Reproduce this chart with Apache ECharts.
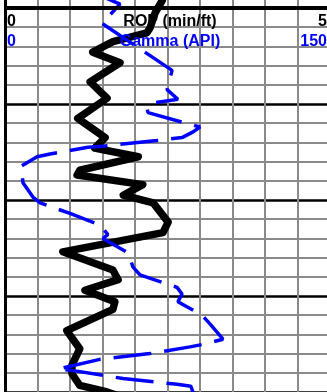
<!DOCTYPE html>
<html><head><meta charset="utf-8">
<script src="https://cdn.jsdelivr.net/npm/echarts@6/dist/echarts.min.js"></script>
<style>html,body{margin:0;padding:0;background:#fff}#c{width:327px;height:392px}</style>
</head><body><div id="c"></div>
<script>
// ROP track (min/ft) vs depth (ft)
const ropDepth = [998.1, 999.2, 1000.5, 1002.1, 1002.6, 1003.5, 1004.6, 1005.7, 1007.7, 1009.4, 1011.5, 1013.5, 1014.6, 1015.5, 1016.9, 1017.4, 1018.4, 1019.5, 1020.3, 1022.3, 1023.4, 1025.4, 1027.3, 1028.3, 1029.4, 1030.6, 1031.4, 1033.6, 1035.5, 1037.2, 1038.1, 1039.3, 1040.0, 1040.8];
const ropValues = [2.46, 2.42, 2.31, 2.23, 2.18, 1.66, 1.35, 1.77, 1.31, 1.57, 1.12, 1.54, 1.38, 2.05, 1.15, 1.11, 2.12, 1.82, 2.28, 2.51, 2.43, 0.89, 1.66, 1.74, 1.23, 1.69, 1.66, 0.95, 1.15, 1.03, 1.03, 1.15, 1.57, 1.92];
// Gamma (API) vs depth (ft)
const gammaDepth = [998.6, 999.6, 1001.6, 1006.5, 1008.5, 1009.5, 1009.9, 1010.4, 1010.9, 1012.4, 1012.9, 1013.5, 1013.8, 1014.4, 1014.5, 1015.2, 1015.5, 1016.5, 1018.2, 1019.7, 1020.3, 1021.4, 1022.6, 1023.6, 1024.0, 1025.5, 1027.0, 1027.8, 1029.1, 1029.8, 1030.6, 1032.0, 1032.9, 1034.5, 1035.0, 1035.3, 1036.0, 1036.6, 1037.6, 1037.8, 1038.6, 1039.2, 1039.4, 1040.3];
const gammaValues = [42.9, 53.1, 44.8, 77.1, 74.8, 79.8, 67.8, 65.5, 66.0, 90.0, 86.8, 81.7, 70.2, 44.8, 38.3, 20.8, 14.8, 7.4, 8.3, 12.9, 16.2, 30.0, 43.8, 47.5, 45.2, 56.8, 59.1, 62.3, 79.4, 81.7, 79.8, 90.9, 94.6, 100.6, 92.3, 85.4, 66.9, 43.8, 24.5, 32.3, 54.5, 79.4, 85.8, 87.2];
// scale labels
const ropScale = ['0', '5'];
const ropTitle = 'ROP (min/ft)';
const gammaScale = ['0', '150'];
const gammaTitle = 'Gamma (API)';
const trackTopDepth = [1000];

const FONT = '"Liberation Sans", Arial, sans-serif';
const chart = echarts.init(document.getElementById('c'), null, {renderer: 'canvas'});
const ropData = ropValues.map((v, i) => [v, ropDepth[i]]);
const gammaData = gammaValues.map((v, i) => [v, gammaDepth[i]]);

function txt(t, x, y, align, color) {
  return {type: 'text', x: x, y: y, z: 100, style: {text: t, fill: color, font: 'bold 16px ' + FONT, textAlign: align, textVerticalAlign: 'middle'}};
}

chart.setOption({
  animation: false,
  grid: {left: 5, top: -88, width: 325, height: 480, outerBoundsMode: 'none', containLabel: false},
  xAxis: [
    {type: 'value', min: +ropScale[0], max: +ropScale[1], interval: 0.5, position: 'top',
     axisLine: {show: false}, axisTick: {show: false}, axisLabel: {show: false},
     splitLine: {show: true, lineStyle: {color: '#8a8a8a', width: 2}}},
    {type: 'value', min: +gammaScale[0], max: +gammaScale[1], position: 'bottom', show: false,
     splitLine: {show: false}}
  ],
  yAxis: {type: 'value', inverse: true, min: 990, max: 1040, interval: 10,
    axisLine: {show: true, onZero: false, lineStyle: {color: '#000', width: 3}},
    axisTick: {show: false}, axisLabel: {show: false},
    splitLine: {show: true, lineStyle: {color: '#000', width: 2.5}},
    minorTick: {show: false, splitNumber: 5},
    minorSplitLine: {show: true, lineStyle: {color: '#8a8a8a', width: 2}}
  },
  series: [
    {type: 'line', name: ropTitle, xAxisIndex: 0, data: ropData, showSymbol: false, symbol: 'none',
     lineStyle: {color: '#000', width: 7.5, join: 'round', cap: 'round'}, z: 3,
     markLine: {silent: true, symbol: 'none', label: {show: false},
       lineStyle: {color: '#000', width: 4, type: 'solid'},
       data: trackTopDepth.map(d => ({yAxis: d}))}},
    {type: 'line', name: gammaTitle, xAxisIndex: 1, data: gammaData, showSymbol: false, symbol: 'none',
     lineStyle: {color: '#0000ff', width: 3.5, type: [38, 13], cap: 'butt'}, z: 4}
  ],
  graphic: [
    txt(ropScale[0], 7, 21.5, 'left', '#000'),
    txt(ropTitle, 170, 21.5, 'center', '#000'),
    txt(ropScale[1], 327, 21.5, 'right', '#000'),
    txt(gammaScale[0], 7, 41.5, 'left', '#0000ff'),
    txt(gammaTitle, 170, 41.5, 'center', '#0000ff'),
    txt(gammaScale[1], 327, 41.5, 'right', '#0000ff')
  ]
});
</script></body></html>
